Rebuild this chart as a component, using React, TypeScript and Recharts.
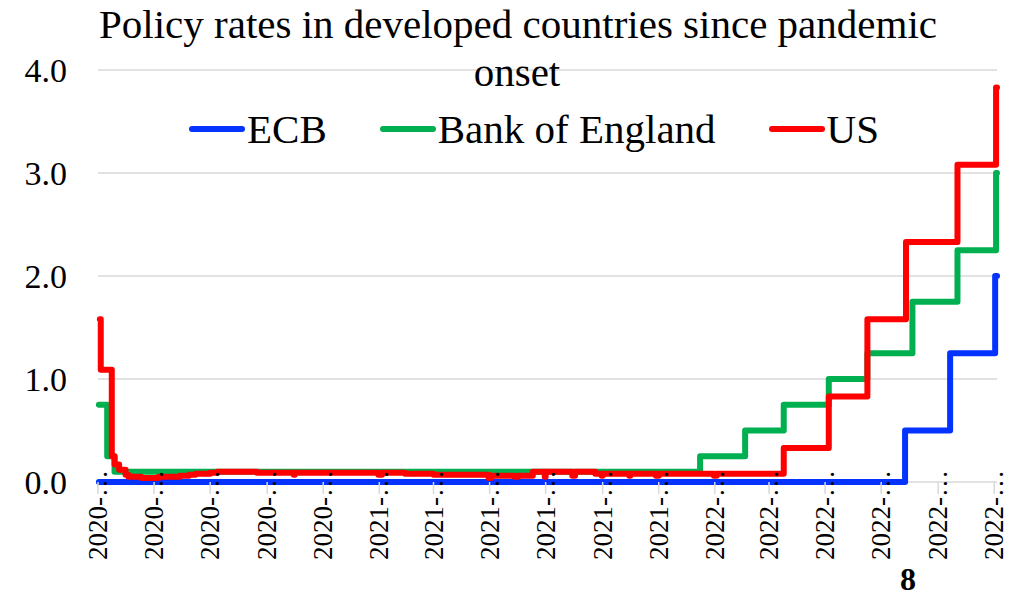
import React from 'react';
import { LineChart, Line, XAxis, YAxis, CartesianGrid, Legend } from 'recharts';

const FONT = '"Liberation Serif", "Times New Roman", serif';

// ECB main refinancing rate (change points)
const ecbDates = ['2020-03-02', '2022-07-27', '2022-09-14', '2022-11-02', '2022-11-04'];
const ecbRates = [0, 0.5, 1.25, 2.0, 2.0];

// Bank of England bank rate (change points)
const boeDates = [
  '2020-03-02', '2020-03-11', '2020-03-19', '2021-12-16', '2022-02-03', '2022-03-17',
  '2022-05-05', '2022-06-16', '2022-08-04', '2022-09-22', '2022-11-03', '2022-11-04',
];
const boeRates = [0.75, 0.25, 0.1, 0.25, 0.5, 0.75, 1.0, 1.25, 1.75, 2.25, 3.0, 3.0];

// US effective federal funds rate (change points)
const usDates = [
  '2020-03-03', '2020-03-04', '2020-03-16', '2020-03-19', '2020-03-24', '2020-03-31',
  '2020-04-03', '2020-04-17', '2020-05-06', '2020-05-29', '2020-06-08', '2020-06-15',
  '2020-07-01', '2020-07-09', '2020-08-21', '2020-09-30', '2020-10-01', '2020-12-31',
  '2021-01-04', '2021-01-29', '2021-03-01', '2021-04-30', '2021-05-03', '2021-05-28',
  '2021-06-01', '2021-06-17', '2021-06-30', '2021-07-01', '2021-07-30', '2021-08-02',
  '2021-08-24', '2021-08-31', '2021-09-01', '2021-09-30', '2021-10-01', '2021-10-29',
  '2021-11-01', '2021-12-31', '2022-01-03', '2022-03-17', '2022-05-05', '2022-06-16',
  '2022-07-28', '2022-09-22', '2022-11-03', '2022-11-04',
];
const usRates = [
  1.58, 1.09, 0.25, 0.17, 0.12, 0.07,
  0.05, 0.04, 0.05, 0.06, 0.07, 0.08,
  0.09, 0.10, 0.09, 0.07, 0.09, 0.07,
  0.09, 0.08, 0.07, 0.04, 0.06, 0.05,
  0.06, 0.10, 0.05, 0.10, 0.06, 0.10,
  0.08, 0.06, 0.08, 0.06, 0.08, 0.06,
  0.08, 0.06, 0.08, 0.33, 0.83, 1.58,
  2.33, 3.08, 3.83, 3.83,
];

const xDomainDates = ['2020-03-01', '2022-11-04'];
const xTickDates = [
  '2020-03-01', '2020-05-01', '2020-07-01', '2020-09-01', '2020-11-01',
  '2021-01-01', '2021-03-01', '2021-05-01', '2021-07-01', '2021-09-01', '2021-11-01',
  '2022-01-01', '2022-03-01', '2022-05-01', '2022-07-01', '2022-09-01', '2022-11-01',
];
const xTickLabels = [
  '2020-…', '2020-…', '2020-…', '2020-…', '2020-…',
  '2021-…', '2021-…', '2021-…', '2021-…', '2021-…', '2021-…',
  '2022-…', '2022-…', '2022-…', '2022-…', '2022-…', '2022-…',
];
const yTicks = [0, 1, 2, 3, 4];

const seriesNames = ['ECB', 'Bank of England', 'US'];
const seriesColors = ['#0433FF', '#00B050', '#FF0000'];

const toDay = (s: string) => {
  const [y, m, d] = s.split('-').map(Number);
  return Date.UTC(y, m - 1, d) / 86400000;
};

const build = (dates: string[], rates: number[]) => dates.map((d, i) => ({ t: toDay(d), v: rates[i] }));

const ecbData = build(ecbDates, ecbRates);
const boeData = build(boeDates, boeRates);
const usData = build(usDates, usRates);
const xTickDays = xTickDates.map(toDay);

const XTick = (props: any) => {
  const { x, y, payload } = props;
  const idx = xTickDays.indexOf(payload.value);
  const label = idx >= 0 ? xTickLabels[idx] : '';
  return (
    <text
      transform={`translate(${x + 9}, ${y - 24}) rotate(-90)`}
      textAnchor="end"
      fontFamily={FONT}
      fontSize={27}
      fill="#000"
    >
      {label}
    </text>
  );
};

const renderLegend = (props: any) => {
  const payload = [...(props.payload || [])].sort(
    (a: any, b: any) => seriesNames.indexOf(a.value) - seriesNames.indexOf(b.value)
  );
  return (
    <div
      style={{
        display: 'flex',
        alignItems: 'center',
        fontFamily: FONT,
        fontSize: 41,
        lineHeight: '46px',
        color: '#000',
        whiteSpace: 'nowrap',
      }}
    >
      {payload.map((e: any, i: number) => (
        <div key={i} style={{ display: 'flex', alignItems: 'center', marginRight: 53 }}>
          <svg width={56} height={10} style={{ display: 'block' }}>
            <line x1={3} y1={5} x2={53} y2={5} stroke={e.color} strokeWidth={6} strokeLinecap="round" />
          </svg>
          <span style={{ marginLeft: 2 }}>{e.value}</span>
        </div>
      ))}
    </div>
  );
};

export default function App() {
  return (
    <div style={{ position: 'absolute', left: 0, top: 0, width: 1020, height: 596, background: '#fff' }}>
      <LineChart width={1020} height={596} margin={{ top: 70, right: 23, bottom: 14, left: 0 }}>
        <CartesianGrid vertical={false} stroke="#D9D9D9" strokeWidth={1.5} />
        <XAxis
          type="number"
          dataKey="t"
          domain={[toDay(xDomainDates[0]), toDay(xDomainDates[1])]}
          ticks={xTickDays}
          interval={0}
          height={100}
          tickSize={12}
          tickMargin={0}
          axisLine={false}
          tickLine={{ stroke: '#D9D9D9', strokeWidth: 1.5 }}
          tick={<XTick />}
        />
        <YAxis
          domain={[0, 4]}
          ticks={yTicks}
          width={98}
          axisLine={false}
          tickLine={false}
          tickSize={0}
          tickMargin={31}
          tickFormatter={(v: number) => v.toFixed(1)}
          tick={{ fontSize: 34, fill: '#000', fontFamily: FONT }}
        />
        <Legend
          verticalAlign="middle"
          layout="horizontal"
          wrapperStyle={{ top: 106, left: 189, width: 900 }}
          content={renderLegend}
        />
        <Line data={ecbData} dataKey="v" name={seriesNames[0]} type="stepAfter" stroke={seriesColors[0]}
          strokeWidth={6} dot={false} isAnimationActive={false} strokeLinecap="round" strokeLinejoin="round" />
        <Line data={boeData} dataKey="v" name={seriesNames[1]} type="stepAfter" stroke={seriesColors[1]}
          strokeWidth={6} dot={false} isAnimationActive={false} strokeLinecap="round" strokeLinejoin="round" />
        <Line data={usData} dataKey="v" name={seriesNames[2]} type="stepAfter" stroke={seriesColors[2]}
          strokeWidth={6} dot={false} isAnimationActive={false} strokeLinecap="round" strokeLinejoin="round" />
      </LineChart>
      <svg width={1020} height={596} style={{ position: 'absolute', left: 0, top: 0, pointerEvents: 'none' }}>
        <text x={518} y={38} textAnchor="middle" fontFamily={FONT} fontSize={41} fill="#000">
          Policy rates in developed countries since pandemic
        </text>
        <text x={517} y={86} textAnchor="middle" fontFamily={FONT} fontSize={41} fill="#000">
          onset
        </text>
        <text x={908} y={590} textAnchor="middle" fontFamily={FONT} fontSize={32} fontWeight="bold" fill="#000">
          8
        </text>
      </svg>
    </div>
  );
}
